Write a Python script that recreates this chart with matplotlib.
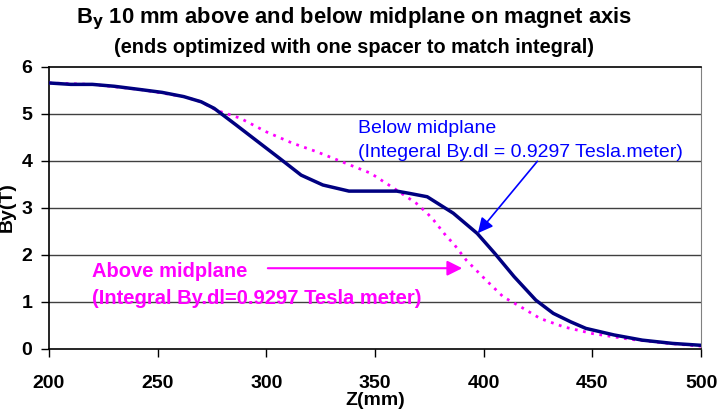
import matplotlib
matplotlib.use("Agg")
import matplotlib.pyplot as plt

plt.rcParams['font.family'] = ['Liberation Sans', 'DejaVu Sans']

# field below midplane (solid navy)
z_below = [200, 210, 220, 230, 242, 252, 262, 270, 276, 286, 295, 306, 316, 326, 338,
           350, 360, 366, 374, 386, 397, 405, 414, 424, 432, 440, 447, 460, 473, 487, 500]
by_below = [5.65, 5.62, 5.62, 5.58, 5.51, 5.45, 5.36, 5.25, 5.11, 4.76, 4.44, 4.05, 3.69,
            3.48, 3.35, 3.35, 3.35, 3.30, 3.23, 2.88, 2.45, 2.03, 1.53, 1.03, 0.75, 0.57,
            0.43, 0.29, 0.18, 0.11, 0.07]

# field above midplane (dotted magenta)
z_above = [200, 220, 242, 262, 270, 277, 288, 300, 312, 323, 335, 348, 360, 369, 374,
           377, 383, 386, 392, 401, 409, 417, 426, 437, 450, 467, 483, 500]
by_above = [5.65, 5.62, 5.51, 5.36, 5.25, 5.07, 4.90, 4.61, 4.37, 4.19, 3.97, 3.73, 3.37,
            3.09, 2.88, 2.73, 2.38, 2.24, 1.88, 1.46, 1.10, 0.89, 0.64, 0.46, 0.32, 0.20,
            0.12, 0.05]

xticks = [200, 250, 300, 350, 400, 450, 500]
yticks = [0, 1, 2, 3, 4, 5, 6]

fig = plt.figure(figsize=(7.28, 4.17), dpi=100)
ax = fig.add_axes([0.0673, 0.164, 0.8957, 0.6765])

for v in yticks[1:-1]:
    ax.axhline(v, color='#404040', lw=1, zorder=1)

ax.plot(z_above, by_above, color='#FF00FF', lw=2, linestyle=(0, (1, 2)), zorder=3)
ax.plot(z_below, by_below, color='#000080', lw=2.5, zorder=4)

ax.set_xlim(200, 500)
ax.set_ylim(0, 6)
ax.set_xticks(xticks)
ax.set_yticks(yticks)
ax.tick_params(axis='both', direction='out', length=6, width=1, labelsize=14, colors='black')
ax.tick_params(axis='x', pad=13)
ax.tick_params(axis='y', pad=6)
for lab in ax.get_xticklabels() + ax.get_yticklabels():
    lab.set_fontweight('bold')
ax.spines['right'].set_color('#808080')
for s in ['left', 'bottom', 'top']:
    ax.spines[s].set_color('black')
    ax.spines[s].set_linewidth(1.2)

ax.set_xlabel('Z(mm)', fontsize=14, fontweight='bold', labelpad=0)
ax.set_ylabel('By(T)', fontsize=14, fontweight='bold', labelpad=4)

fig.text(0.486, 0.955, r'B$_\mathbf{y}$ 10 mm above and below midplane on magnet axis',
         ha='center', va='center', fontsize=15.8, fontweight='bold')
fig.text(0.486, 0.887, '(ends optimized with one spacer to match integral)',
         ha='center', va='center', fontsize=14.3, fontweight='bold')

# annotations
ax.text(342.2, 4.69, 'Below midplane', color='#0000FF', fontsize=14, va='center')
ax.text(342.2, 4.18, '(Integeral By.dl = 0.9297 Tesla.meter)', color='#0000FF',
        fontsize=14, va='center')
ax.annotate('', xy=(396.5, 2.41), xytext=(425.5, 4.03),
            arrowprops=dict(arrowstyle='-|>,head_length=0.9,head_width=0.45',
                            color='#0000FF', lw=1.2))

ax.text(219.8, 1.65, 'Above midplane', color='#FF00FF', fontsize=14.5,
        fontweight='bold', va='center')
ax.text(219.8, 1.07, '(Integral By.dl=0.9297 Tesla meter)', color='#FF00FF',
        fontsize=14.5, fontweight='bold', va='center')
ax.annotate('', xy=(391.4, 1.71), xytext=(299.4, 1.71),
            arrowprops=dict(arrowstyle='-|>,head_length=0.9,head_width=0.45',
                            color='#FF00FF', lw=1.5))

fig.savefig('out.png', dpi=100)
